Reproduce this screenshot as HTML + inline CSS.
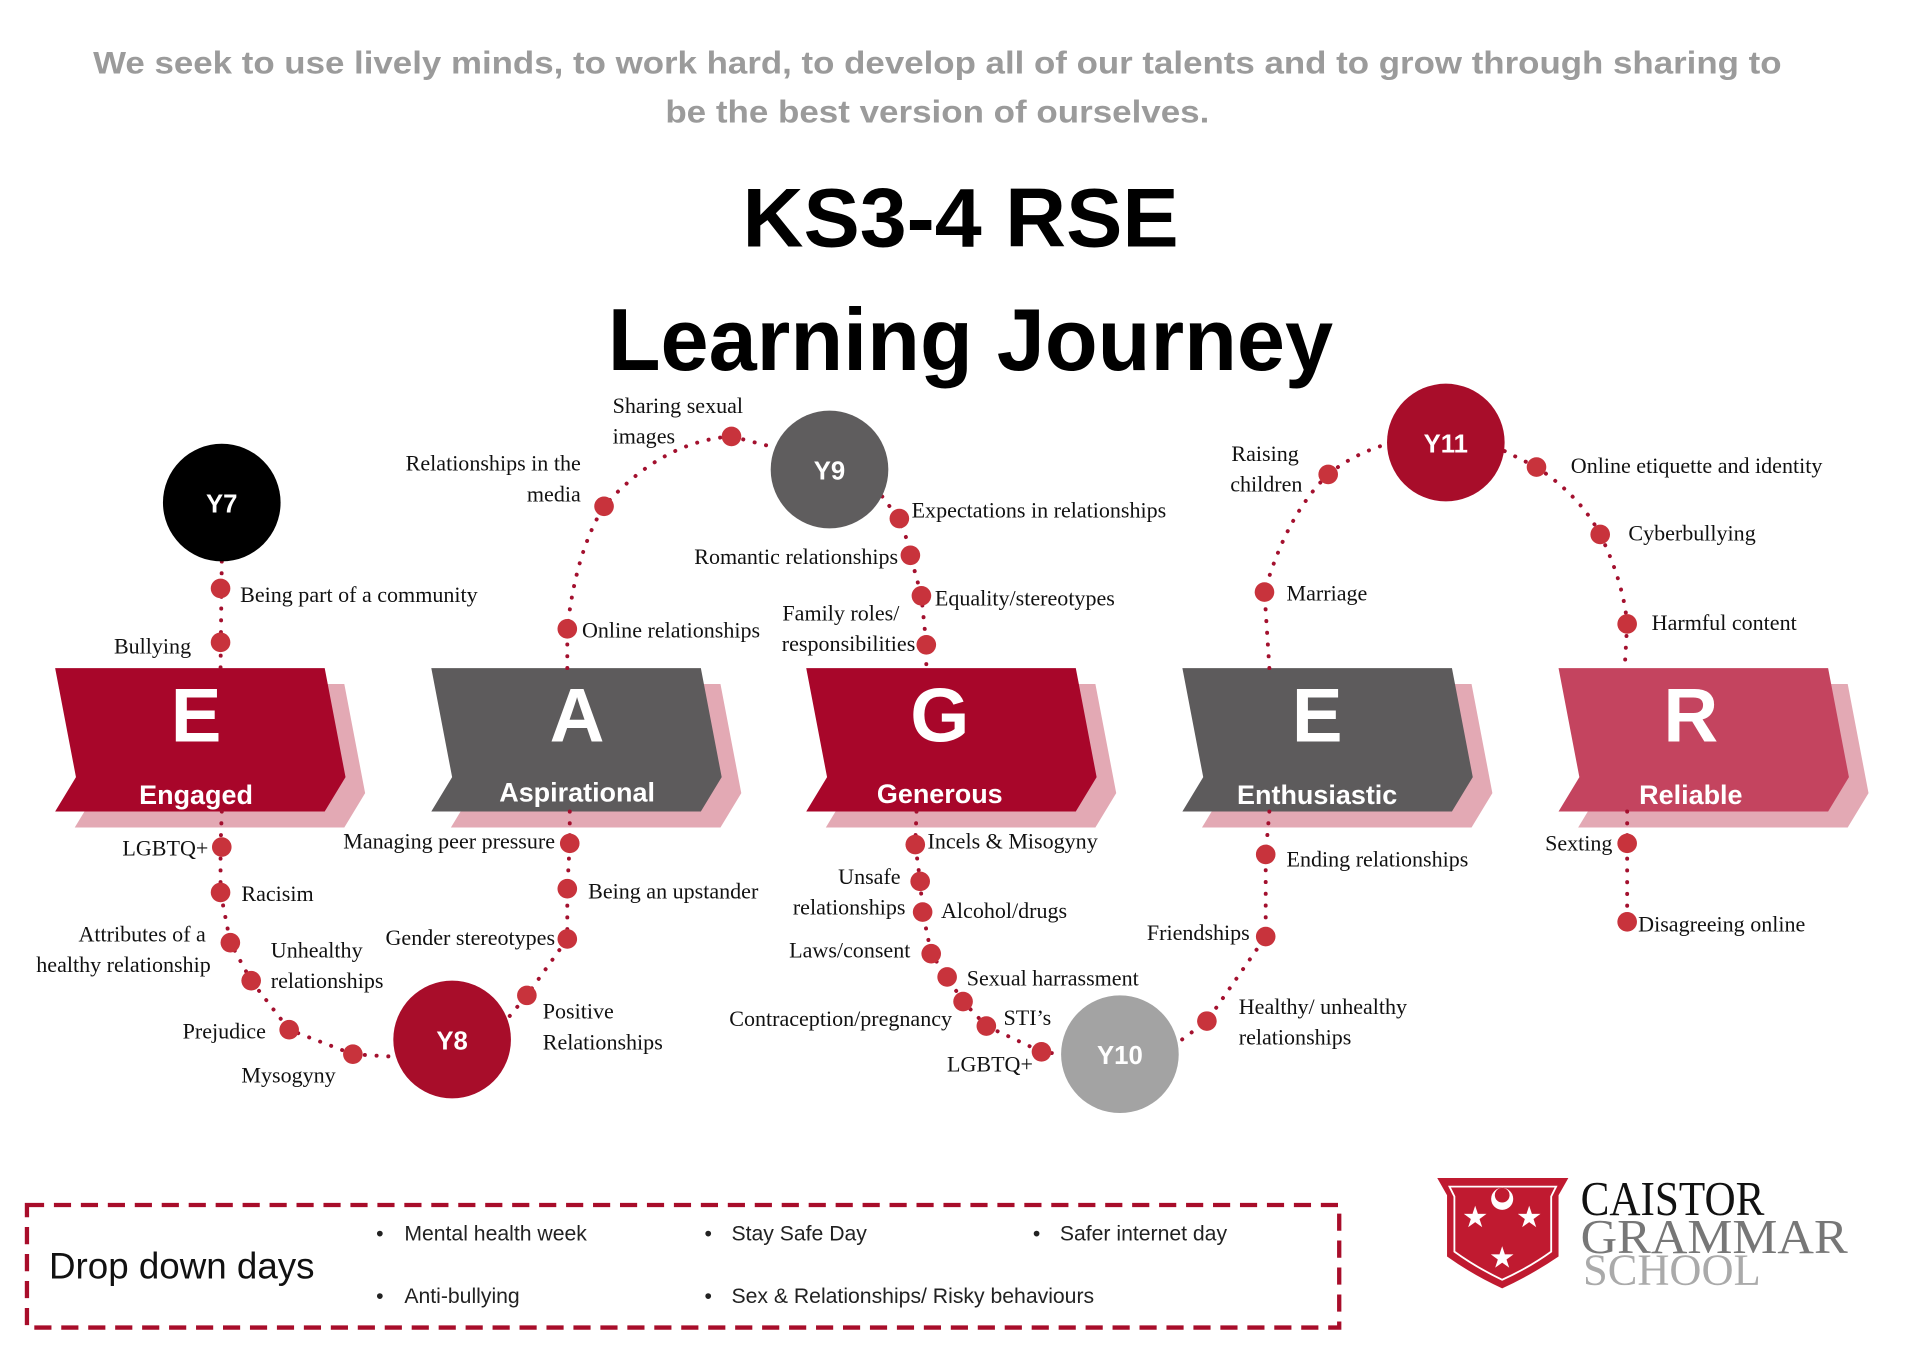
<!DOCTYPE html>
<html><head><meta charset="utf-8"><style>
html,body{margin:0;padding:0;background:#fff;}
svg{display:block;}
.s{font-family:"Liberation Serif",serif;font-size:18px;fill:#111;}
.d{fill:#c8333c;}
.p{fill:none;stroke:#a3102e;stroke-width:3.2;stroke-dasharray:0.1 9.5;stroke-linecap:round;}
.big{font-family:"Liberation Sans",sans-serif;font-weight:bold;fill:#fff;text-anchor:middle;}
.yc{font-family:"Liberation Sans",sans-serif;font-weight:bold;fill:#fff;text-anchor:middle;font-size:21px;}
.b{font-family:"Liberation Sans",sans-serif;font-size:17.3px;fill:#222;}
</style></head><body>
<svg width="1920" height="1357" viewBox="0 0 1567 1107" preserveAspectRatio="none" xmlns="http://www.w3.org/2000/svg">
<rect width="1567" height="1107" fill="#fff"/>
<text x="76" y="60" textLength="1378" lengthAdjust="spacingAndGlyphs" font-family="Liberation Sans,sans-serif" font-weight="bold" font-size="26" fill="#9b9b9b">We seek to use lively minds, to work hard, to develop all of our talents and to grow through sharing to</text>
<text x="543" y="100" textLength="444" lengthAdjust="spacingAndGlyphs" font-family="Liberation Sans,sans-serif" font-weight="bold" font-size="26" fill="#9b9b9b">be the best version of ourselves.</text>
<text x="606" y="201" textLength="356" lengthAdjust="spacingAndGlyphs" font-family="Liberation Sans,sans-serif" font-weight="bold" font-size="68" fill="#000">KS3-4 RSE</text>
<text x="496" y="302" textLength="592" lengthAdjust="spacingAndGlyphs" font-family="Liberation Sans,sans-serif" font-weight="bold" font-size="72" fill="#000">Learning Journey</text>

<g>
<defs>
<polygon id="ban" points="0,0 220,0 237,89 220,117 0,117 17,89"/>
</defs>
<use href="#ban" x="61" y="558" fill="#e3a9b4"/><use href="#ban" x="45" y="545" fill="#a8062a"/>
<use href="#ban" x="368" y="558" fill="#e3a9b4"/><use href="#ban" x="352" y="545" fill="#5d5b5c"/>
<use href="#ban" x="674" y="558" fill="#e3a9b4"/><use href="#ban" x="658" y="545" fill="#a8062a"/>
<use href="#ban" x="981" y="558" fill="#e3a9b4"/><use href="#ban" x="965" y="545" fill="#5d5b5c"/>
<use href="#ban" x="1288" y="558" fill="#e3a9b4"/><use href="#ban" x="1272" y="545" fill="#c4445f"/>
</g>
<text class="big" x="160" y="605" font-size="62">E</text>
<text class="big" x="160" y="656" font-size="22">Engaged</text>
<text class="big" x="471" y="605" font-size="62">A</text>
<text class="big" x="471" y="654" font-size="22">Aspirational</text>
<text class="big" x="767" y="605" font-size="62">G</text>
<text class="big" x="767" y="655" font-size="22">Generous</text>
<text class="big" x="1075" y="605" font-size="62">E</text>
<text class="big" x="1075" y="656" font-size="22">Enthusiastic</text>
<text class="big" x="1380" y="605" font-size="62">R</text>
<text class="big" x="1380" y="656" font-size="22">Reliable</text>

<path class="p" d="M181,458 L180,545"/>
<path class="p" d="M463,545 L463,513 Q470,450 493,413 Q540,360 597,356 L632,365"/>
<path class="p" d="M720,405 Q740,430 743,453 L752,486 L756,526 L756,545"/>
<path class="p" d="M1036,545 L1032,483 Q1050,420 1084,387 Q1105,370 1133,362"/>
<path class="p" d="M1228,368 L1254,381 Q1290,405 1306,436 Q1325,475 1328,509 L1326,545"/>
<path class="p" d="M181,662 L180,691 L180,728 L188,769 L205,800 L236,840 L288,860 L321,862"/>
<path class="p" d="M465,662 L465,688 L463,725 L463,766 L430,812 L415,830"/>
<path class="p" d="M748,662 L747,689 L751,719 L753,744 L760,778 L773,797 L786,817 L805,837 L850,858 L866,860"/>
<path class="p" d="M1036,662 L1033,697 L1033,764 L985,833 L962,850"/>
<path class="p" d="M1328,662 L1328,752"/>

<circle cx="181" cy="410" r="48" fill="#000"/><text class="yc" x="181" y="418">Y7</text>
<circle cx="677" cy="383" r="48" fill="#5f5d5e"/><text class="yc" x="677" y="391">Y9</text>
<circle cx="1180" cy="361" r="48" fill="#a80d2a"/><text class="yc" x="1180" y="369">Y11</text>
<circle cx="369" cy="848" r="48" fill="#a80d2a"/><text class="yc" x="369" y="856">Y8</text>
<circle cx="914" cy="860" r="48" fill="#a3a3a3"/><text class="yc" x="914" y="868">Y10</text>

<g class="d">
<circle cx="180" cy="480" r="8"/><circle cx="180" cy="524" r="8"/>
<circle cx="463" cy="513" r="8"/><circle cx="493" cy="413" r="8"/><circle cx="597" cy="356" r="8"/>
<circle cx="734" cy="423" r="8"/><circle cx="743" cy="453" r="8"/><circle cx="752" cy="486" r="8"/><circle cx="756" cy="526" r="8"/>
<circle cx="1032" cy="483" r="8"/><circle cx="1084" cy="387" r="8"/>
<circle cx="1254" cy="381" r="8"/><circle cx="1306" cy="436" r="8"/><circle cx="1328" cy="509" r="8"/>
<circle cx="181" cy="691" r="8"/><circle cx="180" cy="728" r="8"/><circle cx="188" cy="769" r="8"/><circle cx="205" cy="800" r="8"/><circle cx="236" cy="840" r="8"/><circle cx="288" cy="860" r="8"/>
<circle cx="465" cy="688" r="8"/><circle cx="463" cy="725" r="8"/><circle cx="463" cy="766" r="8"/><circle cx="430" cy="812" r="8"/>
<circle cx="747" cy="689" r="8"/><circle cx="751" cy="719" r="8"/><circle cx="753" cy="744" r="8"/><circle cx="760" cy="778" r="8"/><circle cx="773" cy="797" r="8"/><circle cx="786" cy="817" r="8"/><circle cx="805" cy="837" r="8"/><circle cx="850" cy="858" r="8"/>
<circle cx="1033" cy="697" r="8"/><circle cx="1033" cy="764" r="8"/><circle cx="985" cy="833" r="8"/>
<circle cx="1328" cy="688" r="8"/><circle cx="1328" cy="752" r="8"/>
</g>

<g class="s">
<text x="196" y="491">Being part of a community</text>
<text x="93" y="533">Bullying</text>
<text x="500" y="337">Sharing sexual</text><text x="500" y="362">images</text>
<text x="474" y="384" text-anchor="end">Relationships in the</text><text x="474" y="409" text-anchor="end">media</text>
<text x="475" y="520">Online relationships</text>
<text x="744" y="422">Expectations in relationships</text>
<text x="733" y="460" text-anchor="end">Romantic relationships</text>
<text x="763" y="494">Equality/stereotypes</text>
<text x="734" y="506" text-anchor="end">Family roles/</text><text x="747" y="531" text-anchor="end">responsibilities</text>
<text x="1060" y="376" text-anchor="end">Raising</text><text x="1063" y="401" text-anchor="end">children</text>
<text x="1050" y="490">Marriage</text>
<text x="1282" y="386">Online etiquette and identity</text>
<text x="1329" y="441">Cyberbullying</text>
<text x="1348" y="514">Harmful content</text>
<text x="170" y="698" text-anchor="end">LGBTQ+</text>
<text x="197" y="735">Racisim</text>
<text x="168" y="768" text-anchor="end">Attributes of a</text><text x="172" y="793" text-anchor="end">healthy relationship</text>
<text x="221" y="781">Unhealthy</text><text x="221" y="806">relationships</text>
<text x="217" y="847" text-anchor="end">Prejudice</text>
<text x="197" y="883">Mysogyny</text>
<text x="453" y="692" text-anchor="end">Managing peer pressure</text>
<text x="480" y="733">Being an upstander</text>
<text x="453" y="771" text-anchor="end">Gender stereotypes</text>
<text x="443" y="831">Positive</text><text x="443" y="856">Relationships</text>
<text x="757" y="692">Incels &amp; Misogyny</text>
<text x="735" y="721" text-anchor="end">Unsafe</text><text x="739" y="746" text-anchor="end">relationships</text>
<text x="768" y="749">Alcohol/drugs</text>
<text x="743" y="781" text-anchor="end">Laws/consent</text>
<text x="789" y="804">Sexual harrassment</text>
<text x="777" y="837" text-anchor="end">Contraception/pregnancy</text>
<text x="819" y="836">STI’s</text>
<text x="843" y="874" text-anchor="end">LGBTQ+</text>
<text x="1050" y="707">Ending relationships</text>
<text x="1020" y="767" text-anchor="end">Friendships</text>
<text x="1011" y="827">Healthy/ unhealthy</text><text x="1011" y="852">relationships</text>
<text x="1316" y="694" text-anchor="end">Sexting</text>
<text x="1337" y="760">Disagreeing online</text>
</g>

<rect x="22" y="983" width="1071" height="100" fill="none" stroke="#a80d2a" stroke-width="3.5" stroke-dasharray="14 8"/>
<text x="40" y="1043" font-family="Liberation Sans,sans-serif" font-size="30" fill="#111">Drop down days</text>
<g class="b">
<text x="307" y="1012">•</text><text x="330" y="1012">Mental health week</text>
<text x="575" y="1012">•</text><text x="597" y="1012">Stay Safe Day</text>
<text x="843" y="1012">•</text><text x="865" y="1012">Safer internet day</text>
<text x="307" y="1063">•</text><text x="330" y="1063">Anti-bullying</text>
<text x="575" y="1063">•</text><text x="597" y="1063">Sex &amp; Relationships/ Risky behaviours</text>
</g>

<path d="M1173,961 L1280,961 L1272,975 L1272,1025 Q1250,1040 1226,1051 Q1202,1040 1181,1025 L1181,975 Z" fill="#c01a30"/>
<path d="M1183,968 L1270,968 L1266,976 L1266,1021 Q1248,1034 1226,1044 Q1205,1034 1187,1021 L1187,976 Z" fill="none" stroke="#fff" stroke-width="1.5"/>
<circle cx="1226" cy="978" r="9" fill="#fff"/><circle cx="1226" cy="975" r="6" fill="#c01a30"/>
<g fill="#fff" font-family="DejaVu Sans,sans-serif" font-size="24" text-anchor="middle">
<text x="1204" y="1001">★</text><text x="1248" y="1001">★</text><text x="1226" y="1034">★</text>
</g>
<text x="1290" y="991" font-family="Liberation Serif,serif" font-size="40" fill="#111" textLength="150" lengthAdjust="spacingAndGlyphs">CAISTOR</text>
<text x="1290" y="1022" font-family="Liberation Serif,serif" font-size="40" fill="#777" textLength="218" lengthAdjust="spacingAndGlyphs">GRAMMAR</text>
<text x="1292" y="1048" font-family="Liberation Serif,serif" font-size="36" fill="#aaa" textLength="145" lengthAdjust="spacingAndGlyphs">SCHOOL</text>
</svg>
</body></html>
